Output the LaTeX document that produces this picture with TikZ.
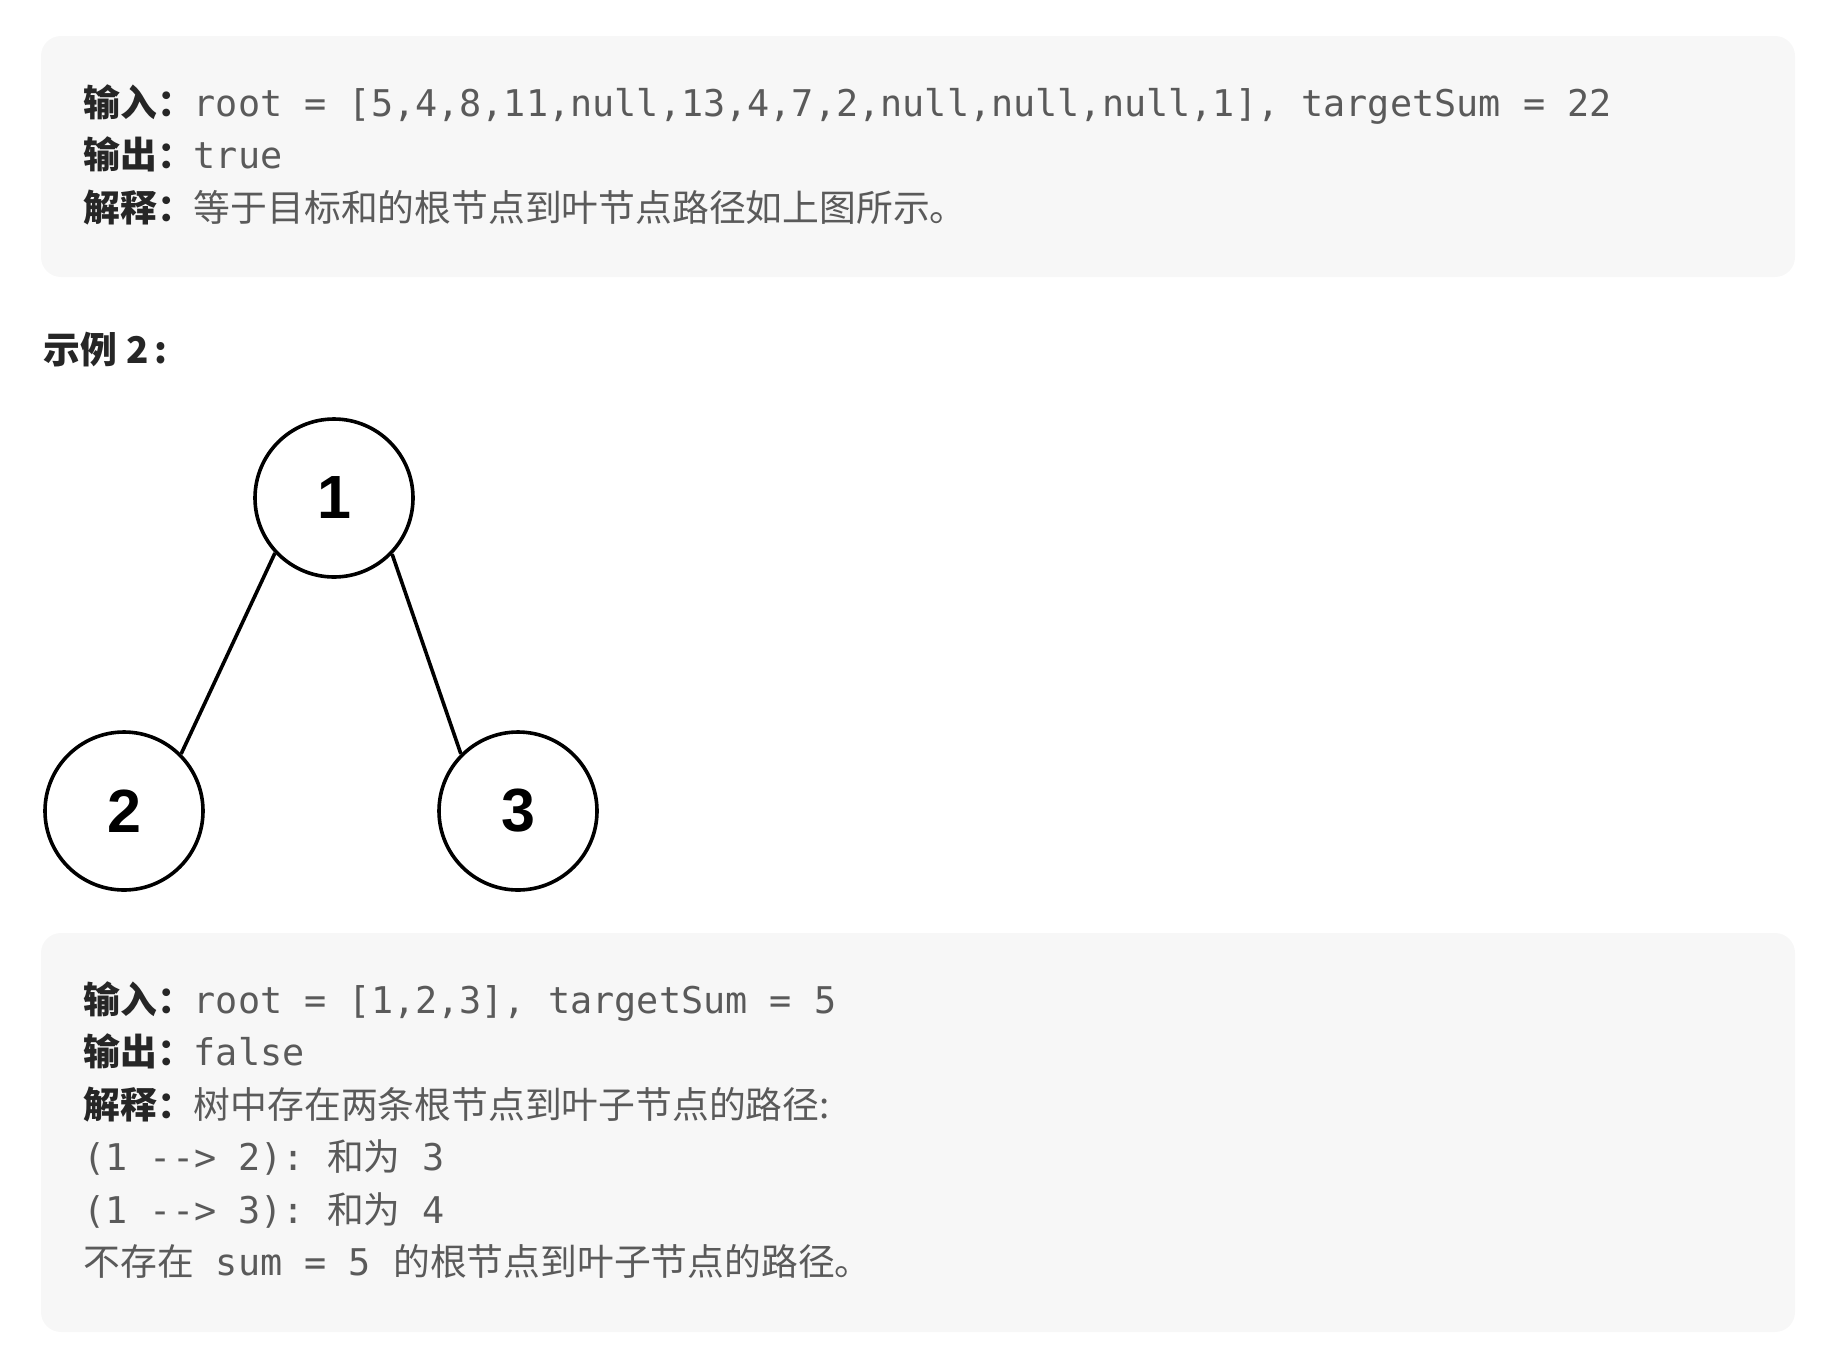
\documentclass[tikz,border=0pt]{standalone}
\usepackage{fontspec}
\newfontfamily\cjk{Noto Sans CJK SC}
\newfontfamily\mono{DejaVu Sans Mono}
\newfontfamily\arialike{Liberation Sans}
\definecolor{boxbg}{HTML}{F7F7F7}
\definecolor{codegray}{HTML}{5A5A5A}
\definecolor{labelblack}{HTML}{262626}
\newcommand{\lbl}[1]{{\cjk\bfseries\color{labelblack}#1}}

\begin{document}
\begin{tikzpicture}[x=0.5pt,y=-0.5pt,
  line/.style={anchor=base west,inner sep=0pt,text=codegray,
    font=\fontsize{18.4}{22}\selectfont},
  treenode/.style={draw,circle,line width=1.8pt,minimum size=79pt,inner sep=0pt,
    font=\arialike\bfseries\fontsize{30.5}{36}\selectfont},
  edge/.style={line width=1.8pt}]
  \useasboundingbox (0,0) rectangle (1834,1365);
  % first example box
  \fill[boxbg,rounded corners=10pt] (41,36) rectangle (1795,277);
  \node[line] (inA) at (83,116) {\lbl{输入：}\mono root = [5,4,8,11,null,13,4,7,2,null,null,null,1], targetSum = 22};
  \node[line] (outA) at (83,168.5) {\lbl{输出：}\mono true};
  \node[line] (whyA) at (83,221) {\lbl{解释：}{\cjk 等于目标和的根节点到叶节点路径如上图所示。}};
  % heading
  \node[line,text=labelblack] (ex2) at (43,363) {\cjk\bfseries 示例\hspace{5pt}2\hspace{2.5pt}:};
  % tree
  \node[treenode] (n1) at (334,498) {1};
  \node[treenode] (n2) at (124,811) {2};
  \node[treenode] (n3) at (518,811) {3};
  \draw[edge] (n1.223) -- (n2.45); \draw[edge] (n1.316) -- (n3.135);
  % second example box
  \fill[boxbg,rounded corners=10pt] (41,933) rectangle (1795,1332);
  \node[line] (inB) at (83,1013) {\lbl{输入：}\mono root = [1,2,3], targetSum = 5};
  \node[line] (outB) at (83,1065.5) {\lbl{输出：}\mono false};
  \node[line] (whyB) at (83,1118) {\lbl{解释：}{\cjk 树中存在两条根节点到叶子节点的路径:}};
  \node[line] (pathB) at (83,1170.5) {\mono (1 -{}-> 2):\ {\cjk 和为}\ 3};
  \node[line] (pathC) at (83,1223) {\mono (1 -{}-> 3):\ {\cjk 和为}\ 4};
  \node[line] (noneB) at (83,1275.5) {{\cjk 不存在}{\mono\ sum = 5\ }{\cjk 的根节点到叶子节点的路径。}};
\end{tikzpicture}
\end{document}
